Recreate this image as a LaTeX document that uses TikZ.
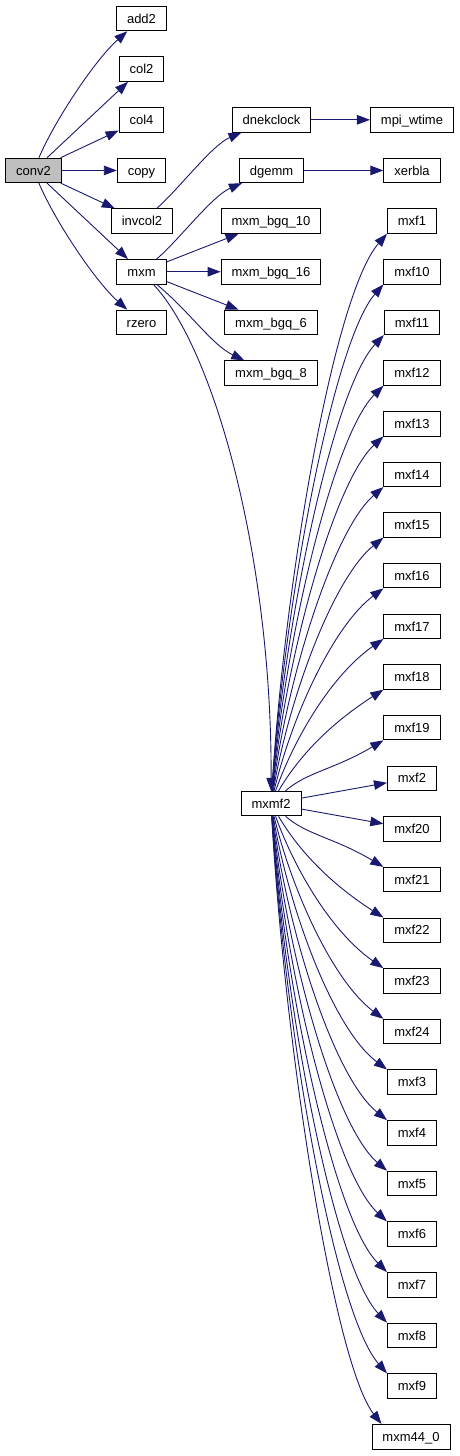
\documentclass[tikz,border=0pt]{standalone}
\usepackage{fontspec}
\setmainfont{Liberation Sans}
\usetikzlibrary{arrows.meta}
\definecolor{edgeblue}{RGB}{25,25,112}
\definecolor{nodegray}{RGB}{191,191,191}
\begin{document}
\begin{tikzpicture}[x=1pt,y=1pt,
  box/.style={draw=black,line width=0.9pt,fill=white,inner xsep=10.5pt,inner ysep=0pt,
    minimum height=24.5pt,text height=10pt,text depth=0.6pt,font=\fontsize{13}{15}\selectfont},
  edge/.style={draw=edgeblue,line width=0.9pt,-{Triangle[length=13pt,width=9.5pt]}}]
\useasboundingbox (0,0) rectangle (460,-1456);
% left
\node[box,fill=nodegray] (conv2) at (33.5,-170.45) {conv2};
\node[box] (add2) at (141.5,-18.5) {add2};
\node[box] (col2) at (141.5,-69.15) {col2};
\node[box] (col4) at (141.5,-119.8) {col4};
\node[box] (copy) at (141.5,-170.45) {copy};
\node[box] (invcol2) at (142,-221.1) {invcol2};
\node[box] (mxm) at (141.5,-271.75) {mxm};
\node[box] (rzero) at (141.5,-322.4) {rzero};
% middle
\node[box] (dnekclock) at (271.5,-119.8) {dnekclock};
\node[box] (dgemm) at (271.5,-170.45) {dgemm};
\node[box] (bgqten) at (271,-221.1) {mxm\_bgq\_10};
\node[box] (bgqsixteen) at (271,-271.75) {mxm\_bgq\_16};
\node[box] (bgqsix) at (271,-322.4) {mxm\_bgq\_6};
\node[box] (bgqeight) at (271,-373.05) {mxm\_bgq\_8};
\node[box] (mxmf2) at (271,-803.6) {mxmf2};
% right
\node[box] (mpiwtime) at (412,-119.8) {mpi\_wtime};
\node[box] (xerbla) at (412,-170.45) {xerbla};
\foreach \n/\t/\k in {mxf1/mxf1/4,mxf10/mxf10/5,mxf11/mxf11/6,mxf12/mxf12/7,mxf13/mxf13/8,
  mxf14/mxf14/9,mxf15/mxf15/10,mxf16/mxf16/11,mxf17/mxf17/12,mxf18/mxf18/13,mxf19/mxf19/14,
  mxf2/mxf2/15,mxf20/mxf20/16,mxf21/mxf21/17,mxf22/mxf22/18,mxf23/mxf23/19,mxf24/mxf24/20,
  mxf3/mxf3/21,mxf4/mxf4/22,mxf5/mxf5/23,mxf6/mxf6/24,mxf7/mxf7/25,mxf8/mxf8/26,mxf9/mxf9/27}{
  \pgfmathsetmacro\yc{18.5+50.65*\k}
  \node[box] (\n) at (412,-\yc) {\t};
}
\node[box] (mxmfour) at (411,-1436.7) {mxm44\_0};
% edges from conv2
\draw[edge] (conv2) .. controls (55,-120) and (95,-60) .. (add2);
\draw[edge] (conv2) -- (col2);
\draw[edge] (conv2) -- (col4);
\draw[edge] (conv2) -- (copy);
\draw[edge] (conv2) -- (invcol2);
\draw[edge] (conv2) -- (mxm);
\draw[edge] (conv2) .. controls (55,-221) and (95,-281) .. (rzero);
% invcol2, mxm
\draw[edge] (invcol2) .. controls (178,-190) and (212,-145) .. (dnekclock);
\draw[edge] (dnekclock) -- (mpiwtime);
\draw[edge] (mxm) .. controls (178,-241) and (212,-196) .. (dgemm);
\draw[edge] (dgemm) -- (xerbla);
\draw[edge] (mxm) -- (bgqten);
\draw[edge] (mxm) -- (bgqsixteen);
\draw[edge] (mxm) -- (bgqsix);
\draw[edge] (mxm) .. controls (190,-312) and (212,-345) .. (bgqeight);
\draw[edge] (mxm) .. controls (215,-350) and (272,-560) .. (mxmf2);
% mxmf2 fan, upward
\foreach \n/\k in {mxf1/4,mxf10/5,mxf11/6,mxf12/7,mxf13/8,mxf14/9,mxf15/10,mxf16/11,
  mxf17/12,mxf18/13,mxf19/14}{
  \pgfmathsetmacro\eb{18.5+50.65*\k+12.5}
  \pgfmathsetmacro\H{792-\eb}
  \pgfmathsetmacro\cax{284.7+30*(max(0,1-\H/560))^3}
  \pgfmathsetmacro\cay{803.6-12-0.38*\H}
  \pgfmathsetmacro\th{30+20*(\H-50)/510}
  \pgfmathsetmacro\cby{\eb+51*tan(\th)}
  \draw[edge] (mxmf2) .. controls (\cax,-\cay) and (334,-\cby) .. (\n.south west);
}
\draw[edge] (mxmf2) -- (mxf2);
\draw[edge] (mxmf2) -- (mxf20);
% mxmf2 fan, downward
\foreach \n/\k/\o in {mxf21/17/0,mxf22/18/0,mxf23/19/0,mxf24/20/0,mxf3/21/0,mxf4/22/0,
  mxf5/23/0,mxf6/24/0,mxf7/25/0,mxf8/26/0,mxf9/27/0,mxmfour/28/10}{
  \pgfmathsetmacro\et{18.5+50.65*\k-12.5}
  \pgfmathsetmacro\H{\et-815.6}
  \pgfmathsetmacro\cax{284.7+30*(max(0,1-\H/560))^3}
  \pgfmathsetmacro\cay{803.6+12+0.38*\H}
  \pgfmathsetmacro\th{30+20*(min(\H,560)-50)/510}
  \pgfmathsetmacro\cby{\et-51*tan(\th)}
  \draw[edge] (mxmf2) .. controls (\cax,-\cay) and (334,-\cby) .. ([xshift=\o pt]\n.north west);
}
\end{tikzpicture}
\end{document}
